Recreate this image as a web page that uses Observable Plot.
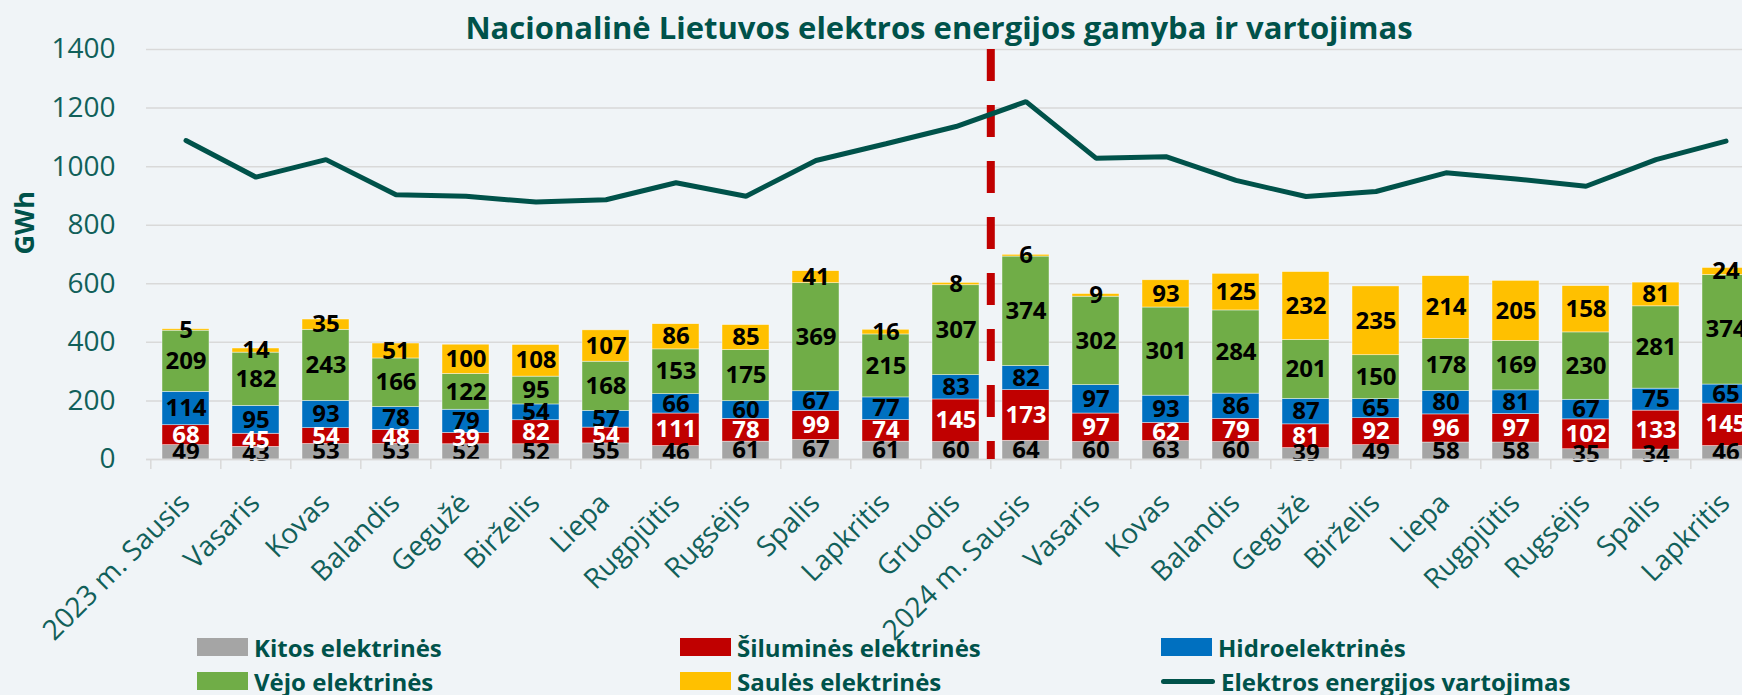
<!DOCTYPE html>
<html>
<head>
<meta charset="utf-8">
<script src="https://cdn.jsdelivr.net/npm/d3@7"></script>
<script src="https://cdn.jsdelivr.net/npm/@observablehq/plot@0.6"></script>
<style>
  html, body { margin: 0; padding: 0; background: #F0F4F7; overflow: hidden; }
  body { width: 1742px; height: 695px; font-family: "Open Sans", sans-serif; }
  #title { height: 42px; line-height: 54px; text-align: center; font-weight: 700; font-size: 31px; color: #00524A; white-space: nowrap; padding-left: 136px; box-sizing: border-box; }
  #chart svg { display: block; overflow: visible; }
  #legend { position: relative; height: 65px; }
  .li { position: absolute; display: flex; align-items: center; height: 26px; font-weight: 700; font-size: 24px; color: #00524A; white-space: nowrap; }
  .sw { width: 51px; height: 18px; margin-right: 6px; }
  .ln { width: 54px; height: 5px; margin-right: 6px; border-radius: 3px; }
</style>
</head>
<body>
<div id="title">Nacionalinė Lietuvos elektros energijos gamyba ir vartojimas</div>
<div id="chart"></div>
<div id="legend"></div>
<script>
// ---- data ----
const monthLabels = ["2023 m. Sausis","Vasaris","Kovas","Balandis","Gegužė","Birželis","Liepa","Rugpjūtis","Rugsėjis","Spalis","Lapkritis","Gruodis",
                     "2024 m. Sausis","Vasaris","Kovas","Balandis","Gegužė","Birželis","Liepa","Rugpjūtis","Rugsėjis","Spalis","Lapkritis"];
const seriesNames = ["Kitos elektrinės","Šiluminės elektrinės","Hidroelektrinės","Vėjo elektrinės","Saulės elektrinės"];
const seriesColors = ["#A5A5A5","#C00000","#0070C0","#70AD47","#FFC000"];
const kitos     = [49,43,53,53,52,52,55,46,61,67,61,60, 64,60,63,60,39,49,58,58,35,34,46];
const silumines = [68,45,54,48,39,82,54,111,78,99,74,145, 173,97,62,79,81,92,96,97,102,133,145];
const hidro     = [114,95,93,78,79,54,57,66,60,67,77,83, 82,97,93,86,87,65,80,81,67,75,65];
const vejo      = [209,182,243,166,122,95,168,153,175,369,215,307, 374,302,301,284,201,150,178,169,230,281,374];
const saules    = [5,14,35,51,100,108,107,86,85,41,16,8, 6,9,93,125,232,235,214,205,158,81,24];
const vartojimas = [1089,964,1024,904,899,879,887,945,899,1021,1078,1137, 1222,1029,1034,953,898,915,979,958,933,1024,1087];
const lineName = "Elektros energijos vartojimas";
const yTicks = [0,200,400,600,800,1000,1200,1400];
const splitIndex = 12; // start of 2024

// ---- build table ----
const seriesValues = [kitos, silumines, hidro, vejo, saules];
const idx = d3.range(monthLabels.length);
const rows = [];
seriesNames.forEach((s, k) => idx.forEach(i => rows.push({i, series: s, value: seriesValues[k][i]})));

const step = 70.4, left = 146;
const teal = "#00524A", tickTeal = "#11605A";
const half = step / 2;

const plot = Plot.plot({
  width: 1742, height: 588,
  marginTop: 7, marginBottom: 171, marginLeft: left, marginRight: 0,
  style: {background: "transparent", overflow: "visible", fontFamily: "'Open Sans', sans-serif"},
  x: {type: "band", domain: idx, range: [left, left + step * idx.length], paddingInner: 0.33, paddingOuter: 0.165, axis: null},
  y: {domain: [0, 1400], axis: null},
  color: {domain: seriesNames, range: seriesColors},
  marks: [
    Plot.gridY(yTicks, {stroke: "#D9D9D9", strokeOpacity: 1, strokeWidth: 1.5}),
    Plot.axisY(yTicks, {tickSize: 0, tickPadding: 31, fontSize: 28, color: tickTeal, label: null, tickFormat: d => String(d)}),
    Plot.text(["GWh"], {frameAnchor: "left", dx: -121, rotate: -90, fontSize: 27, fontWeight: 700, fill: teal}),
    Plot.barY(rows, {x: "i", y: "value", fill: "series", order: seriesNames, stroke: "#ffffff", strokeWidth: 0.6, strokeOpacity: 0.7}),
    Plot.text(rows, Plot.stackY({x: "i", y: "value", z: "series", order: seriesNames,
      text: d => d.series === seriesNames[1] ? null : d.value, fill: "black", fontSize: 24, fontWeight: 700})),
    Plot.text(rows, Plot.stackY({x: "i", y: "value", z: "series", order: seriesNames,
      text: d => d.series === seriesNames[1] ? d.value : null, fill: "white", fontSize: 24, fontWeight: 700})),
    Plot.ruleY([0], {stroke: "#D9D9D9", strokeWidth: 1.5}),
    Plot.ruleX(idx, {x: d => d, y1: 0, y2: -34, dx: -half, stroke: "#D9D9D9", strokeWidth: 1.5}),
    Plot.ruleX([splitIndex], {x: d => d, y1: 1400, y2: 0, dx: -half, stroke: "#C00000", strokeWidth: 8, strokeDasharray: "32,24"}),
    Plot.line(vartojimas, {x: (d, i) => i, y: d => d, stroke: teal, strokeWidth: 5, strokeLinejoin: "miter"}),
    Plot.text(idx, {x: d => d, y: () => 0, text: d => monthLabels[d], rotate: -45, textAnchor: "end",
      dx: -1, dy: 39, fontSize: 28, fill: tickTeal})
  ]
});
document.getElementById("chart").appendChild(plot);

// ---- legend ----
const legend = document.getElementById("legend");
const legendItems = [
  {name: seriesNames[0], color: seriesColors[0], x: 197, row: 0},
  {name: seriesNames[1], color: seriesColors[1], x: 680, row: 0},
  {name: seriesNames[2], color: seriesColors[2], x: 1161, row: 0},
  {name: seriesNames[3], color: seriesColors[3], x: 197, row: 1},
  {name: seriesNames[4], color: seriesColors[4], x: 680, row: 1},
  {name: lineName, color: teal, x: 1161, row: 1, line: true}
];
legendItems.forEach(it => {
  const d = document.createElement("div");
  d.className = "li";
  d.style.left = it.x + "px";
  d.style.top = (it.row === 0 ? 4 : 38) + "px";
  const s = document.createElement("span");
  s.className = it.line ? "ln" : "sw";
  s.style.background = it.color;
  d.appendChild(s);
  d.appendChild(document.createTextNode(it.name));
  legend.appendChild(d);
});
</script>
</body>
</html>
